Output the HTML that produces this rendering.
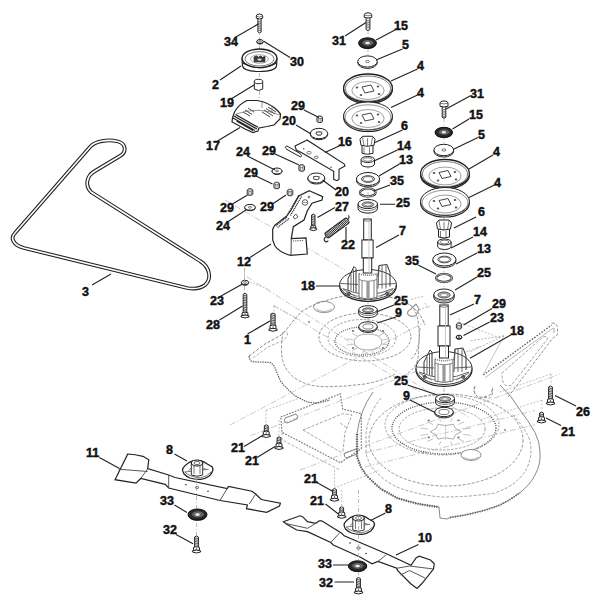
<!DOCTYPE html>
<html><head><meta charset="utf-8">
<style>
html,body{margin:0;padding:0;background:#fff;width:600px;height:600px;overflow:hidden}
svg{display:block}
.t{font-family:"Liberation Sans",sans-serif;font-weight:bold;font-size:12.5px;fill:#111;stroke:#111;stroke-width:0.45}
.ld{stroke:#222;stroke-width:1.1;fill:none}
.dk{stroke:#333;stroke-width:1;fill:#fff}
.pl{stroke:#222;stroke-width:1;fill:#fff}
.th{stroke:#444;stroke-width:0.7;fill:none}
.th2{stroke:#333;stroke-width:0.9;fill:none}
.dg{stroke:#999;stroke-width:0.9;fill:none;stroke-dasharray:3 2}
.ax{stroke:#aaa;stroke-width:0.8;fill:none;stroke-dasharray:4 2 1 2}
</style></head><body>
<svg width="600" height="600" viewBox="0 0 600 600">
<!-- DECK -->
<g id="deck"><path d="M246.7,276.7 L470,418" fill="none" stroke="#bbb" stroke-width="0.8" stroke-dasharray="6 2 1.5 2"/>
<path d="M273,305 L420,392" fill="none" stroke="#bbb" stroke-width="0.8" stroke-dasharray="6 2 1.5 2"/>
<path d="M225,200 L345,270" fill="none" stroke="#bbb" stroke-width="0.8" stroke-dasharray="6 2 1.5 2"/>
<path d="M230,425 L425,322" fill="none" stroke="#bbb" stroke-width="0.8" stroke-dasharray="6 2 1.5 2"/>
<path d="M250,436 L480,346.6" fill="none" stroke="#bbb" stroke-width="0.8" stroke-dasharray="6 2 1.5 2"/>
<path d="M300,470 L560,374" fill="none" stroke="#bbb" stroke-width="0.8" stroke-dasharray="6 2 1.5 2"/>
<path d="M365,453 L535,410.5" fill="none" stroke="#bbb" stroke-width="0.8" stroke-dasharray="6 2 1.5 2"/>
<path d="M365,467 L535,424.7" fill="none" stroke="#bbb" stroke-width="0.8" stroke-dasharray="6 2 1.5 2"/>
<path d="M249,356 L265,344 L283,334 Q292,322 301,312 Q311,305 325,301 Q345,294 370,294 Q395,296 410,305 Q420,312 425,325" fill="none" stroke="#777" stroke-width="0.9" stroke-dasharray="3 1.6"/>
<path d="M253,358 L268,347 L284,340 Q290,333 286,331" fill="none" stroke="#999" stroke-width="0.8" stroke-dasharray="3 1.6"/>
<path d="M249,356 Q249.5,361 253,361.7 L270,362.5 Q273.5,364 275,368 L280,380 Q283,385 286.7,388 Q291,393 296.7,396.7 L306.7,401.7 Q312,403 318,403 L330,400" fill="none" stroke="#666" stroke-width="1.3" stroke-dasharray="1.4 1"/>
<path d="M283,331.7 Q281,345 281.7,355 Q282.5,362 285,366.7 Q288,372 293,376.7 Q300,382 310,385 Q320,387 330,386.7 L345,386 L365,384 Q385,380 395,374" fill="none" stroke="#888" stroke-width="0.9" stroke-dasharray="3 1.6"/>
<path d="M410,305 Q420,312 419,340 Q418,354 410,360" fill="none" stroke="#888" stroke-width="0.9" stroke-dasharray="3 1.6"/>
<path d="M420,328 L418,358 Q416,370 400,378" fill="none" stroke="#888" stroke-width="0.9" stroke-dasharray="3 1.6"/>
<ellipse cx="365" cy="337" rx="46" ry="24" fill="none" stroke="#8a8a8a" stroke-width="0.9" stroke-dasharray="3 1.6"/>
<ellipse cx="362" cy="338" rx="34" ry="18.5" fill="none" stroke="#999" stroke-width="0.9" stroke-dasharray="2.5 1.5"/>
<ellipse cx="362" cy="341" rx="27" ry="14" fill="none" stroke="#666" stroke-width="1.3" stroke-dasharray="1 1.2"/>
<path d="M354,342 Q355,334 368,334 Q381,334 382,342 Q381,350 368,350 Q355,350 354,342 Z" fill="none" stroke="#999" stroke-width="0.8"/>
<ellipse cx="353" cy="331" rx="1.2" ry="0.9" fill="#777"/>
<ellipse cx="383" cy="331" rx="1.2" ry="0.9" fill="#777"/>
<ellipse cx="353" cy="348" rx="1.2" ry="0.9" fill="#777"/>
<ellipse cx="383" cy="348" rx="1.2" ry="0.9" fill="#777"/>
<line x1="382.5" y1="344.2" x2="389.3" y2="345.1" stroke="#aaa" stroke-width="0.7"/>
<line x1="378.6" y1="348.0" x2="383.6" y2="350.5" stroke="#aaa" stroke-width="0.7"/>
<line x1="371.9" y1="350.2" x2="373.7" y2="353.6" stroke="#aaa" stroke-width="0.7"/>
<line x1="364.1" y1="350.2" x2="362.3" y2="353.6" stroke="#aaa" stroke-width="0.7"/>
<line x1="357.4" y1="348.0" x2="352.4" y2="350.5" stroke="#aaa" stroke-width="0.7"/>
<line x1="353.5" y1="344.2" x2="346.7" y2="345.1" stroke="#aaa" stroke-width="0.7"/>
<line x1="353.5" y1="339.8" x2="346.7" y2="338.9" stroke="#aaa" stroke-width="0.7"/>
<line x1="357.4" y1="336.0" x2="352.4" y2="333.5" stroke="#aaa" stroke-width="0.7"/>
<line x1="364.1" y1="333.8" x2="362.3" y2="330.4" stroke="#aaa" stroke-width="0.7"/>
<line x1="371.9" y1="333.8" x2="373.7" y2="330.4" stroke="#aaa" stroke-width="0.7"/>
<line x1="378.6" y1="336.0" x2="383.6" y2="333.5" stroke="#aaa" stroke-width="0.7"/>
<line x1="382.5" y1="339.8" x2="389.3" y2="338.9" stroke="#aaa" stroke-width="0.7"/>
<ellipse cx="324" cy="307" rx="10.5" ry="5.6" fill="none" stroke="#8a8a8a" stroke-width="0.9"/><path d="M316,309 Q324,314 332,309" fill="none" stroke="#999" stroke-width="0.8"/>
<ellipse cx="309" cy="322" rx="1" ry="0.7" fill="#555"/>
<path d="M416,304 L411,309 Q406,312 408,314.5 Q411,317.5 416,315.5 L419,309 L416,304" fill="none" stroke="#999" stroke-width="1.2"/>
<path d="M411,299.5 L424,296 M419,310 L430,306 M425,303 L429,309" fill="none" stroke="#aaa" stroke-width="0.8" stroke-dasharray="2 1.5"/>
<path d="M280.8,417 L340.3,393.8 L342.7,409 L361.3,413.7 L361.3,448.7 L340.3,462.7 L282,432.3 Z" fill="none" stroke="#777" stroke-width="1.1" stroke-dasharray="1.8 1.2"/>
<path d="M303,430 L342.7,413.7 L352,414.8 L345,432.3 L342.7,453.3 M303,430 L342.7,453.3 M340.3,423 L347,428" fill="none" stroke="#9a9a9a" stroke-width="0.9" stroke-dasharray="3 1.6"/>
<path d="M282,432.3 L282,440 L340,470" fill="none" stroke="#aaa" stroke-width="0.9" stroke-dasharray="3 1.6"/>
<path d="M285,418 L296,414 Q299,416 297,419 L287,423 Q283,422 285,418 Z" fill="none" stroke="#777" stroke-width="0.9"/>
<path d="M345,453 L356,449 Q359,451 357,454 L347,458 Q343,457 345,453 Z" fill="none" stroke="#777" stroke-width="0.9"/>
<path d="M373,392 Q360,410 357,434 L357,456 Q360,468 367,476 Q375,484 381,489 Q390,494 397,498 Q418,505 439,507 L440,518 L447,519 L450,517.5 L465,515 Q485,511 500,505 Q512,499 520,492.5 Q530,485 535,475 Q541,464 540,452.5 Q540,442 535,432.5 Q528,420 520,410 Q512,396 500,385" fill="none" stroke="#7a7a7a" stroke-width="0.9"/>
<path d="M357,434 L357,456 Q360,468 367,476 Q375,484 381,489 Q390,494 397,498 Q418,505 439,507" fill="none" stroke="#555" stroke-width="2.4" stroke-dasharray="0.9 1.5"/>
<path d="M450,517.5 L465,515 Q485,511 500,505 Q512,499 520,492.5" fill="none" stroke="#666" stroke-width="2.0" stroke-dasharray="0.9 1.6"/>
<path d="M381,398 Q368,414 366,434 L366,454 Q369,464 374,470 Q382,478 388,482 Q398,488 405,490 Q425,496 442,497 Q470,497 495,493 Q508,488 513,484 Q522,477 526,470 Q531,460 531,451 Q531,440 527,434 Q520,422 512,414" fill="none" stroke="#999" stroke-width="0.9" stroke-dasharray="3 1.6"/>
<ellipse cx="446" cy="440" rx="77" ry="46" fill="none" stroke="#8a8a8a" stroke-width="0.9" stroke-dasharray="3 1.6"/>
<ellipse cx="442" cy="425" rx="57" ry="30" fill="none" stroke="#999" stroke-width="0.9" stroke-dasharray="2.5 1.5"/>
<ellipse cx="444" cy="428" rx="52" ry="26" fill="none" stroke="#555" stroke-width="1.4" stroke-dasharray="1 1.3"/>
<ellipse cx="442" cy="429" rx="43" ry="21" fill="none" stroke="#999" stroke-width="0.9" stroke-dasharray="2.5 1.5"/>
<path d="M461.3,431.7 L455.4,434.8 L453.5,439.1 L445.7,437.8 L437.9,439.1 L436.0,434.8 L430.1,431.7 L436.0,428.6 L437.9,424.3 L445.7,425.6 L453.5,424.3 L455.4,428.6 Z" fill="none" stroke="#999" stroke-width="0.8"/>
<line x1="445.7" y1="424" x2="445.7" y2="440" stroke="#bbb" stroke-width="0.7"/>
<ellipse cx="428.7" cy="420.4" rx="1.2" ry="0.9" fill="#777"/>
<ellipse cx="458.5" cy="420.4" rx="1.2" ry="0.9" fill="#777"/>
<ellipse cx="428.7" cy="437.4" rx="1.2" ry="0.9" fill="#777"/>
<ellipse cx="458.5" cy="437.4" rx="1.2" ry="0.9" fill="#777"/>
<line x1="463.1" y1="434.3" x2="470.8" y2="435.3" stroke="#aaa" stroke-width="0.7"/>
<line x1="458.4" y1="438.8" x2="464.1" y2="441.6" stroke="#aaa" stroke-width="0.7"/>
<line x1="450.4" y1="441.4" x2="452.4" y2="445.2" stroke="#aaa" stroke-width="0.7"/>
<line x1="441.0" y1="441.4" x2="439.0" y2="445.2" stroke="#aaa" stroke-width="0.7"/>
<line x1="433.0" y1="438.8" x2="427.3" y2="441.6" stroke="#aaa" stroke-width="0.7"/>
<line x1="428.3" y1="434.3" x2="420.6" y2="435.3" stroke="#aaa" stroke-width="0.7"/>
<line x1="428.3" y1="429.1" x2="420.6" y2="428.1" stroke="#aaa" stroke-width="0.7"/>
<line x1="433.0" y1="424.6" x2="427.3" y2="421.8" stroke="#aaa" stroke-width="0.7"/>
<line x1="441.0" y1="422.0" x2="439.0" y2="418.2" stroke="#aaa" stroke-width="0.7"/>
<line x1="450.4" y1="422.0" x2="452.4" y2="418.2" stroke="#aaa" stroke-width="0.7"/>
<line x1="458.4" y1="424.6" x2="464.1" y2="421.8" stroke="#aaa" stroke-width="0.7"/>
<line x1="463.1" y1="429.1" x2="470.8" y2="428.1" stroke="#aaa" stroke-width="0.7"/>
<ellipse cx="471" cy="455" rx="10" ry="5.5" fill="#fff" stroke="#888" stroke-width="0.9"/><path d="M463,457 Q471,462 479,457" fill="none" stroke="#999" stroke-width="0.8"/>
<ellipse cx="505" cy="430" rx="1" ry="0.7" fill="#555"/>
<path d="M475,386 Q472,392 478,397 L490,398 Q494,394 492,386" fill="none" stroke="#888" stroke-width="0.9" stroke-dasharray="3 1.6"/>
<path d="M485.3,377.5 L553.5,327.8" fill="none" stroke="#999" stroke-width="0.7"/>
<path d="M483.3,375 L551.7,325" fill="none" stroke="#666" stroke-width="1.4" stroke-dasharray="1.6 1.4"/>
<path d="M551.7,323.3 Q556.7,322 557.5,328 L557.5,333.3 Q557,337 553.3,337.5 L508.3,396.7" fill="none" stroke="#888" stroke-width="0.9" stroke-dasharray="3 1.6"/>
<path d="M501.7,373.3 L543.3,336.7 Q548,336 547.5,339 L511.7,385 Q504,388 502.5,380 Z" fill="none" stroke="#999" stroke-width="0.9" stroke-dasharray="3 1.6"/>
<path d="M554,328 L554,333" fill="none" stroke="#888" stroke-width="0.8"/>
<path d="M475,386.7 Q472,394 480,398.3 L490,395 Q493,391 491.7,388.3" fill="none" stroke="#888" stroke-width="0.9" stroke-dasharray="3 1.6"/>
<path d="M504,335.8 L470,340.8 M504,335.8 L470,351.7" stroke="#999" stroke-width="0.7" fill="none" stroke-dasharray="2 1.5"/><path d="M504,335.8 L483,375" stroke="#aaa" stroke-width="0.7" fill="none"/>
<path d="M551,374 L551,385 M551,374 L500,392" fill="none" stroke="#aaa" stroke-width="0.7" stroke-dasharray="2 1.5"/>
<path d="M542,400 L542,409 M542,400 L480,420" fill="none" stroke="#aaa" stroke-width="0.7" stroke-dasharray="2 1.5"/>
<path d="M266,410 L266,424 M266,410 L300,398" fill="none" stroke="#aaa" stroke-width="0.7" stroke-dasharray="2 1.5"/>
<path d="M279,420 L279,436" fill="none" stroke="#aaa" stroke-width="0.7" stroke-dasharray="2 1.5"/>
<path d="M334.5,470 L334.5,488 L380,470" fill="none" stroke="#aaa" stroke-width="0.7" stroke-dasharray="2 1.5"/>
<path d="M341.7,490 L341.7,506" fill="none" stroke="#aaa" stroke-width="0.7" stroke-dasharray="2 1.5"/>
<path d="M274,306 L274,314 M274,306 L300,320" fill="none" stroke="#aaa" stroke-width="0.7" stroke-dasharray="2 1.5"/>
<path d="M244.5,268 L244.5,280 L270,290" fill="none" stroke="#aaa" stroke-width="0.7" stroke-dasharray="2 1.5"/>
<path d="M459,318 L459,322 L500,338" fill="none" stroke="#aaa" stroke-width="0.7" stroke-dasharray="2 1.5"/></g>
<!-- BELT -->
<path d="M15,233 L90,147 C95,141 108,139 118,141.5 C126,143.5 127,152 120,156 L95,171 C86,176 85,186 91,192 L200,261 C210,267 212,279 205,285 C200,289 193,289 187,288 L24,248 C13,245 10,238 15,233 Z" fill="none" stroke="#222" stroke-width="3.8"/>
<path d="M15,233 L90,147 C95,141 108,139 118,141.5 C126,143.5 127,152 120,156 L95,171 C86,176 85,186 91,192 L200,261 C210,267 212,279 205,285 C200,289 193,289 187,288 L24,248 C13,245 10,238 15,233 Z" fill="none" stroke="#fff" stroke-width="1.6"/>
<!-- PARTS -->
<g id="parts"><line x1="368" y1="30" x2="368" y2="330" class="ax"/>
<path d="M366.1,18.1 L366.1,29.6 Q368,31.400000000000002 369.9,29.6 L369.9,18.1" class="pl"/><line x1="366.1" y1="20.1" x2="369.9" y2="20.900000000000002" class="th"/><line x1="366.1" y1="21.900000000000002" x2="369.9" y2="22.700000000000003" class="th"/><line x1="366.1" y1="23.700000000000003" x2="369.9" y2="24.500000000000004" class="th"/><line x1="366.1" y1="25.500000000000004" x2="369.9" y2="26.300000000000004" class="th"/><line x1="366.1" y1="27.300000000000004" x2="369.9" y2="28.100000000000005" class="th"/><path d="M364.2,14.8 Q364.2,13.0 368,12.8 Q371.8,13.0 371.8,14.8 L371.8,17.3 Q368,18.900000000000002 364.2,17.3 Z" class="pl"/><path d="M364.2,15.100000000000001 Q368,16.5 371.8,15.100000000000001" class="th"/>
<ellipse cx="367.5" cy="43.8" rx="8.9" ry="5.2" fill="#222"/><ellipse cx="367.5" cy="43" rx="8.9" ry="5.2" fill="#2a2a2a" stroke="#111" stroke-width="1"/><ellipse cx="367.8" cy="42.8" rx="5.518" ry="2.8600000000000003" fill="#666"/><ellipse cx="367.5" cy="43" rx="2.225" ry="1.3" fill="#eee"/>
<ellipse cx="367.5" cy="62.8" rx="9.75" ry="5.6" class="pl" fill="#fff"/><ellipse cx="367.5" cy="61.5" rx="9.75" ry="5.6" class="pl" fill="#fff"/><ellipse cx="367.5" cy="61.5" rx="1.9500000000000002" ry="1.1199999999999999" class="th"/>
<ellipse cx="368" cy="89.5" rx="24.4" ry="14" fill="#fff" stroke="#222" stroke-width="1.3"/><ellipse cx="368" cy="88" rx="24.4" ry="14" fill="#fff" stroke="#222" stroke-width="1.3"/><ellipse cx="368" cy="88.6" rx="22.599999999999998" ry="12.6" fill="none" stroke="#555" stroke-width="0.8"/><ellipse cx="368" cy="90.5" rx="16.104" ry="8.96" fill="none" stroke="#777" stroke-width="0.7"/><path d="M362,87 L371,85 L374,91 L365,93 Z" fill="none" stroke="#333" stroke-width="0.9"/><ellipse cx="357" cy="87.5" rx="1.3" ry="0.9" fill="#555"/><ellipse cx="378" cy="86.5" rx="1.3" ry="0.9" fill="#555"/><ellipse cx="379" cy="94" rx="1.3" ry="0.9" fill="#555"/><ellipse cx="361" cy="95" rx="1.3" ry="0.9" fill="#555"/>
<ellipse cx="368" cy="117.5" rx="24.4" ry="14" fill="#fff" stroke="#222" stroke-width="1.1"/><ellipse cx="368" cy="116" rx="24.4" ry="14" fill="#fff" stroke="#222" stroke-width="1.0"/><ellipse cx="368" cy="117.2" rx="22.9" ry="12.4" fill="none" stroke="#666" stroke-width="0.7"/><ellipse cx="368" cy="118.5" rx="16.104" ry="8.96" fill="none" stroke="#777" stroke-width="0.7"/><path d="M362,115 L371,113 L374,119 L365,121 Z" fill="none" stroke="#333" stroke-width="0.9"/><ellipse cx="357" cy="115.5" rx="1.3" ry="0.9" fill="#555"/><ellipse cx="378" cy="114.5" rx="1.3" ry="0.9" fill="#555"/><ellipse cx="379" cy="122" rx="1.3" ry="0.9" fill="#555"/><ellipse cx="361" cy="123" rx="1.3" ry="0.9" fill="#555"/>
<path d="M362.0,145.3 L362.0,153.3 Q367.5,155.3 373.0,153.3 L373.0,145.3" class="pl"/><path d="M360.0,139.3 L362.5,136.3 L372.5,136.3 L375.0,139.3 L374.0,145.3 Q367.5,147.3 361.0,145.3 Z" class="pl"/><path d="M362.5,137.3 L364.0,145.8 M372.5,137.3 L371.0,145.8 M367.5,138.3 L367.5,146.3" class="th"/><path d="M364.0,147.3 L364.0,153.8 M369.5,147.3 L369.5,154.3" class="th"/>
<path d="M361.1,159.5 L361.1,164.0 A6.7,3 0 0 0 374.5,164.0 L374.5,159.5" class="pl"/><ellipse cx="367.8" cy="159.5" rx="6.7" ry="3" class="pl"/><ellipse cx="367.8" cy="159.5" rx="4.5" ry="1.8" class="th"/>
<ellipse cx="368" cy="180.5" rx="11.6" ry="6.5" class="pl"/><ellipse cx="368" cy="179" rx="11.6" ry="6.5" class="pl"/><ellipse cx="368" cy="179" rx="6.5" ry="3.3" class="th2"/><ellipse cx="368" cy="179" rx="5" ry="2.4" class="th"/>
<ellipse cx="367.8" cy="192.5" rx="7.9" ry="4" fill="none" stroke="#222" stroke-width="2.2"/><ellipse cx="367.8" cy="192.5" rx="7.9" ry="4" fill="none" stroke="#fff" stroke-width="0.7"/>
<path d="M358.05,204 L358.05,208.5 A9.75,4.6 0 0 0 377.55,208.5 L377.55,204" class="pl"/><ellipse cx="367.8" cy="204" rx="9.75" ry="4.6" class="pl"/><ellipse cx="367.8" cy="204.5" rx="5.85" ry="2.53" fill="#bbb" stroke="#333" stroke-width="0.8"/><ellipse cx="367.8" cy="204.6" rx="3.4124999999999996" ry="1.38" fill="#fff" stroke="#555" stroke-width="0.6"/><path d="M358.05,206.025 A9.75,4.6 0 0 0 377.55,206.025" class="th"/>
<ellipse cx="368" cy="286.3" rx="28.3" ry="15" fill="#fff" stroke="#222" stroke-width="1.3"/><ellipse cx="368" cy="284.5" rx="28.3" ry="15" fill="#fff" stroke="#333" stroke-width="1"/><path d="M342.7,288.5 Q368,300.0 393.3,288.5" fill="none" stroke="#555" stroke-width="0.9"/><path d="M345.7,292.5 Q368,302.0 390.3,292.5" fill="none" stroke="#777" stroke-width="0.8"/><path d="M340.7,283.5 L358,284.5 M378,284.5 L395.3,283.5" fill="none" stroke="#555" stroke-width="0.9"/><path d="M359,273.5 L359,297.5 Q368,300.5 377,297.5 L377,273.5" fill="#fff" stroke="#555" stroke-width="0.9"/><path d="M359,273.5 Q368,277.0 377,273.5" fill="none" stroke="#777" stroke-width="1.6" stroke-dasharray="1 1"/><path d="M359,279.5 Q368,283.0 377,279.5" fill="none" stroke="#666" stroke-width="0.8"/><rect x="366.4" y="281.5" width="3.2" height="18" fill="#999"/><path d="M362,280.5 L362,297.5 M374,280.5 L374,297.5" stroke="#666" stroke-width="0.8"/><path d="M348,290.5 L348,278.5 L354,266.5 L356,268.5 L356,292.5" fill="none" stroke="#333" stroke-width="1"/><path d="M351,273.5 L351,290.5 M353.5,269.5 L353.5,291.5" stroke="#555" stroke-width="0.9"/><path d="M378,276.5 L379,265.5 L387,264.5 L390,272.5 L390,286.5" fill="none" stroke="#333" stroke-width="1"/><path d="M382,265.5 L382,288.5 M386,265.5 L386,288.5 M379,265.5 L378,288.5" stroke="#555" stroke-width="0.9"/><path d="M343,289.5 L356,296.5 M393,289.5 L380,296.5 M349,291.5 L347,297.5 M387,291.5 L389,297.5" stroke="#555" stroke-width="0.8"/><circle cx="349" cy="293.5" r="1.4" fill="none" stroke="#333" stroke-width="0.9"/><circle cx="387" cy="293.5" r="1.4" fill="none" stroke="#333" stroke-width="0.9"/>
<rect x="363.7" y="219" width="7.6" height="21" class="pl"/><rect x="361.9" y="240" width="11.2" height="18" class="pl"/><rect x="363.3" y="258" width="8.4" height="15" class="pl"/><path d="M363.7,220.5 Q367.5,222 371.3,220.5" class="th"/><line x1="369.0" y1="222" x2="369.0" y2="273" stroke="#bbb" stroke-width="0.8"/>
<path d="M358.7,309.7 L358.7,313.7 A9.3,4 0 0 0 377.3,313.7 L377.3,309.7" class="pl"/><ellipse cx="368" cy="309.7" rx="9.3" ry="4" class="pl"/><ellipse cx="368" cy="310.2" rx="5.58" ry="2.2" fill="#bbb" stroke="#333" stroke-width="0.8"/><ellipse cx="368" cy="310.3" rx="3.255" ry="1.2" fill="#fff" stroke="#555" stroke-width="0.6"/><path d="M358.7,311.5 A9.3,4 0 0 0 377.3,311.5" class="th"/>
<ellipse cx="368" cy="327.7" rx="9.3" ry="4.7" class="pl" fill="#fff"/><ellipse cx="368" cy="326.5" rx="9.3" ry="4.7" class="pl" fill="#fff"/><ellipse cx="368" cy="326.5" rx="5.115000000000001" ry="2.5850000000000004" class="th"/>
<line x1="444" y1="118" x2="444" y2="415" class="ax"/>
<path d="M442.2,107.0 L442.2,117.3 Q444,119.1 445.8,117.3 L445.8,107.0" class="pl"/><line x1="442.2" y1="109.0" x2="445.8" y2="109.8" class="th"/><line x1="442.2" y1="110.8" x2="445.8" y2="111.6" class="th"/><line x1="442.2" y1="112.6" x2="445.8" y2="113.39999999999999" class="th"/><line x1="442.2" y1="114.39999999999999" x2="445.8" y2="115.19999999999999" class="th"/><line x1="442.2" y1="116.19999999999999" x2="445.8" y2="116.99999999999999" class="th"/><path d="M440.0,102.9 Q440.0,101.10000000000001 444,100.9 Q448.0,101.10000000000001 448.0,102.9 L448.0,106.2 Q444,107.8 440.0,106.2 Z" class="pl"/><path d="M440.0,103.2 Q444,104.60000000000001 448.0,103.2" class="th"/>
<ellipse cx="443.8" cy="133.10000000000002" rx="8.75" ry="5" fill="#222"/><ellipse cx="443.8" cy="132.3" rx="8.75" ry="5" fill="#2a2a2a" stroke="#111" stroke-width="1"/><ellipse cx="444.1" cy="132.10000000000002" rx="5.425" ry="2.75" fill="#666"/><ellipse cx="443.8" cy="132.3" rx="2.1875" ry="1.25" fill="#eee"/>
<ellipse cx="443.8" cy="151.3" rx="9.9" ry="5.7" class="pl" fill="#fff"/><ellipse cx="443.8" cy="150" rx="9.9" ry="5.7" class="pl" fill="#fff"/><ellipse cx="443.8" cy="150" rx="1.9800000000000002" ry="1.1400000000000001" class="th"/>
<ellipse cx="445" cy="175.0" rx="24.4" ry="14" fill="#fff" stroke="#222" stroke-width="1.3"/><ellipse cx="445" cy="173.5" rx="24.4" ry="14" fill="#fff" stroke="#222" stroke-width="1.3"/><ellipse cx="445" cy="174.1" rx="22.599999999999998" ry="12.6" fill="none" stroke="#555" stroke-width="0.8"/><ellipse cx="445" cy="176.0" rx="16.104" ry="8.96" fill="none" stroke="#777" stroke-width="0.7"/><path d="M439,172.5 L448,170.5 L451,176.5 L442,178.5 Z" fill="none" stroke="#333" stroke-width="0.9"/><ellipse cx="434" cy="173.0" rx="1.3" ry="0.9" fill="#555"/><ellipse cx="455" cy="172.0" rx="1.3" ry="0.9" fill="#555"/><ellipse cx="456" cy="179.5" rx="1.3" ry="0.9" fill="#555"/><ellipse cx="438" cy="180.5" rx="1.3" ry="0.9" fill="#555"/>
<ellipse cx="445" cy="203.0" rx="24.4" ry="14" fill="#fff" stroke="#222" stroke-width="1.1"/><ellipse cx="445" cy="201.5" rx="24.4" ry="14" fill="#fff" stroke="#222" stroke-width="1.0"/><ellipse cx="445" cy="202.7" rx="22.9" ry="12.4" fill="none" stroke="#666" stroke-width="0.7"/><ellipse cx="445" cy="204.0" rx="16.104" ry="8.96" fill="none" stroke="#777" stroke-width="0.7"/><path d="M439,200.5 L448,198.5 L451,204.5 L442,206.5 Z" fill="none" stroke="#333" stroke-width="0.9"/><ellipse cx="434" cy="201.0" rx="1.3" ry="0.9" fill="#555"/><ellipse cx="455" cy="200.0" rx="1.3" ry="0.9" fill="#555"/><ellipse cx="456" cy="207.5" rx="1.3" ry="0.9" fill="#555"/><ellipse cx="438" cy="208.5" rx="1.3" ry="0.9" fill="#555"/>
<path d="M438.5,229 L438.5,237 Q444,239 449.5,237 L449.5,229" class="pl"/><path d="M436.5,223 L439,220 L449,220 L451.5,223 L450.5,229 Q444,231 437.5,229 Z" class="pl"/><path d="M439,221 L440.5,229.5 M449,221 L447.5,229.5 M444,222 L444,230" class="th"/><path d="M440.5,231 L440.5,237.5 M446,231 L446,238" class="th"/>
<path d="M437.7,242 L437.7,246.5 A6.7,3 0 0 0 451.09999999999997,246.5 L451.09999999999997,242" class="pl"/><ellipse cx="444.4" cy="242" rx="6.7" ry="3" class="pl"/><ellipse cx="444.4" cy="242" rx="4.5" ry="1.8" class="th"/>
<ellipse cx="444.4" cy="261.0" rx="11.6" ry="6.5" class="pl"/><ellipse cx="444.4" cy="259.5" rx="11.6" ry="6.5" class="pl"/><ellipse cx="444.4" cy="259.5" rx="6.5" ry="3.3" class="th2"/><ellipse cx="444.4" cy="259.5" rx="5" ry="2.4" class="th"/>
<ellipse cx="444" cy="278" rx="7.9" ry="4" fill="none" stroke="#222" stroke-width="2.2"/><ellipse cx="444" cy="278" rx="7.9" ry="4" fill="none" stroke="#fff" stroke-width="0.7"/>
<path d="M433.8,294.5 L433.8,297.5 A10.2,5.5 0 0 0 454.2,297.5 L454.2,294.5" class="pl"/><ellipse cx="444" cy="294.5" rx="10.2" ry="5.5" class="pl"/><ellipse cx="444" cy="295.0" rx="6.119999999999999" ry="3.0250000000000004" fill="#bbb" stroke="#333" stroke-width="0.8"/><ellipse cx="444" cy="295.1" rx="3.5699999999999994" ry="1.65" fill="#fff" stroke="#555" stroke-width="0.6"/><path d="M433.8,295.85 A10.2,5.5 0 0 0 454.2,295.85" class="th"/>
<ellipse cx="444" cy="369.8" rx="28" ry="16.5" fill="#fff" stroke="#222" stroke-width="1.3"/><ellipse cx="444" cy="368" rx="28" ry="16.5" fill="#fff" stroke="#333" stroke-width="1"/><path d="M419,372 Q444,383.5 469,372" fill="none" stroke="#555" stroke-width="0.9"/><path d="M422,376 Q444,385.5 466,376" fill="none" stroke="#777" stroke-width="0.8"/><path d="M417,367 L434,368 M454,368 L471,367" fill="none" stroke="#555" stroke-width="0.9"/><path d="M435,359 L435,381 Q444,384 453,381 L453,359" fill="#fff" stroke="#555" stroke-width="0.9"/><path d="M435,359 Q444,362.5 453,359" fill="none" stroke="#777" stroke-width="1.6" stroke-dasharray="1 1"/><path d="M435,363 Q444,366.5 453,363" fill="none" stroke="#666" stroke-width="0.8"/><rect x="442.4" y="365" width="3.2" height="18" fill="#999"/><path d="M438,364 L438,381 M450,364 L450,381" stroke="#666" stroke-width="0.8"/><path d="M424,374 L424,362 L430,350 L432,352 L432,376" fill="none" stroke="#333" stroke-width="1"/><path d="M427,357 L427,374 M429.5,353 L429.5,375" stroke="#555" stroke-width="0.9"/><path d="M454,360 L455,349 L463,348 L466,356 L466,370" fill="none" stroke="#333" stroke-width="1"/><path d="M458,349 L458,372 M462,349 L462,372 M455,349 L454,372" stroke="#555" stroke-width="0.9"/><path d="M419,373 L432,380 M469,373 L456,380 M425,375 L423,381 M463,375 L465,381" stroke="#555" stroke-width="0.8"/><circle cx="425" cy="377" r="1.4" fill="none" stroke="#333" stroke-width="0.9"/><circle cx="463" cy="377" r="1.4" fill="none" stroke="#333" stroke-width="0.9"/>
<rect x="439.8" y="305" width="8.4" height="21" class="pl"/><rect x="438" y="326" width="12" height="20" class="pl"/><rect x="439.5" y="346" width="9.0" height="12" class="pl"/><path d="M439.8,306.5 Q444,308 448.2,306.5" class="th"/><line x1="445.5" y1="308" x2="445.5" y2="358" stroke="#bbb" stroke-width="0.8"/>
<path d="M435.5,398.5 L435.5,402.5 A9.5,4.2 0 0 0 454.5,402.5 L454.5,398.5" class="pl"/><ellipse cx="445" cy="398.5" rx="9.5" ry="4.2" class="pl"/><ellipse cx="445" cy="399.0" rx="5.7" ry="2.3100000000000005" fill="#bbb" stroke="#333" stroke-width="0.8"/><ellipse cx="445" cy="399.1" rx="3.3249999999999997" ry="1.26" fill="#fff" stroke="#555" stroke-width="0.6"/><path d="M435.5,400.3 A9.5,4.2 0 0 0 454.5,400.3" class="th"/>
<ellipse cx="444" cy="413.2" rx="9.3" ry="4.7" class="pl" fill="#fff"/><ellipse cx="444" cy="412" rx="9.3" ry="4.7" class="pl" fill="#fff"/><ellipse cx="444" cy="412" rx="5.115000000000001" ry="2.5850000000000004" class="th"/>
<line x1="259.5" y1="28" x2="259.5" y2="100" class="ax"/>
<path d="M257.9,19.0 L257.9,32 Q259.5,33.8 261.1,32 L261.1,19.0" class="pl"/><line x1="257.9" y1="21.0" x2="261.1" y2="21.8" class="th"/><line x1="257.9" y1="22.8" x2="261.1" y2="23.6" class="th"/><line x1="257.9" y1="24.6" x2="261.1" y2="25.400000000000002" class="th"/><line x1="257.9" y1="26.400000000000002" x2="261.1" y2="27.200000000000003" class="th"/><line x1="257.9" y1="28.200000000000003" x2="261.1" y2="29.000000000000004" class="th"/><line x1="257.9" y1="30.000000000000004" x2="261.1" y2="30.800000000000004" class="th"/><path d="M256.3,16.0 Q256.3,14.2 259.5,14.0 Q262.7,14.2 262.7,16.0 L262.7,18.2 Q259.5,19.8 256.3,18.2 Z" class="pl"/><path d="M256.3,16.3 Q259.5,17.7 262.7,16.3" class="th"/>
<ellipse cx="260" cy="42.1" rx="3.2" ry="2" class="pl" fill="#fff"/><ellipse cx="260" cy="41.5" rx="3.2" ry="2" class="pl" fill="#fff"/><ellipse cx="260" cy="41.5" rx="1.2800000000000002" ry="0.8" class="th"/>
<path d="M242,58.3 L242.5,66 Q244,71.5 259.5,71.5 Q275,71.5 276.5,66 L277,58.3" fill="#fff" stroke="#222" stroke-width="1.2"/><path d="M242.3,63 Q259.5,72 276.7,63" fill="none" stroke="#333" stroke-width="1.3"/><ellipse cx="259.5" cy="58.3" rx="17.4" ry="9.3" fill="#fff" stroke="#222" stroke-width="1.4"/><ellipse cx="259.5" cy="58.8" rx="14.5" ry="7.2" fill="none" stroke="#555" stroke-width="0.8"/><ellipse cx="259.5" cy="59" rx="9" ry="4.3" fill="none" stroke="#888" stroke-width="0.7"/><path d="M254,57 L256.5,56 L258.5,57.3 L260.5,56 L262.5,57.3 L265,56.5 L264.8,61.8 L254.2,61.8 Z" fill="#3a3a3a" stroke="#222" stroke-width="0.8"/><ellipse cx="259.5" cy="59.6" rx="2.2" ry="1.1" fill="#ddd"/>
<path d="M254.3,81.5 L254.3,89 Q258.5,92 262.7,89 L262.7,81.5" class="pl"/><ellipse cx="258.5" cy="81.5" rx="4.2" ry="2.2" class="pl"/>
<path d="M234.5,112 Q239,104 247,100.5 L257,100.5 Q269,102 278,111 L280.5,114 L280,119 L274,125 L267,126.5 L259,128 L258,131 L253,132.5 L245,129 L236,124 L232,122 L232.5,118 Z" fill="#fff" stroke="#222" stroke-width="1.2"/><path d="M233,118 L255,130.5 M234,116 L257,129 M235.5,114.5 L258,127.3 M236.5,121 L253,130.5" stroke="#222" stroke-width="1.3" fill="none"/><path d="M243,112 L250,116 M245,110 L252,114.5 M248,108 L254,112 M262,112 L270,117 M264,110 L273,116 M266,108.5 L275,114 M268,107 L276,112" stroke="#333" stroke-width="0.9" fill="none"/><path d="M236,114 Q258,106 280,115 M262,100.8 L262,108 M272,105 L272,113" stroke="#666" stroke-width="0.7" fill="none"/>
<path d="M316.9,117.3 L318.3,116.1 L321.09999999999997,116.1 L322.5,117.3 L322.5,121.5 L321.09999999999997,122.5 L318.3,122.5 L316.9,121.5 Z" fill="#ddd" stroke="#222" stroke-width="0.9"/><ellipse cx="319.7" cy="117.5" rx="2.0999999999999996" ry="1.1" fill="#fff" stroke="#444" stroke-width="0.7"/><path d="M318.3,118.5 L318.3,122.5 M321.09999999999997,118.5 L321.09999999999997,122.5" stroke="#555" stroke-width="0.6"/>
<path d="M298.9,166.0 L300.3,164.8 L303.09999999999997,164.8 L304.5,166.0 L304.5,170.2 L303.09999999999997,171.2 L300.3,171.2 L298.9,170.2 Z" fill="#ddd" stroke="#222" stroke-width="0.9"/><ellipse cx="301.7" cy="166.20000000000002" rx="2.0999999999999996" ry="1.1" fill="#fff" stroke="#444" stroke-width="0.7"/><path d="M300.3,167.20000000000002 L300.3,171.2 M303.09999999999997,167.20000000000002 L303.09999999999997,171.2" stroke="#555" stroke-width="0.6"/>
<path d="M273.9,183.5 L275.3,182.3 L278.09999999999997,182.3 L279.5,183.5 L279.5,187.7 L278.09999999999997,188.7 L275.3,188.7 L273.9,187.7 Z" fill="#ddd" stroke="#222" stroke-width="0.9"/><ellipse cx="276.7" cy="183.70000000000002" rx="2.0999999999999996" ry="1.1" fill="#fff" stroke="#444" stroke-width="0.7"/><path d="M275.3,184.70000000000002 L275.3,188.7 M278.09999999999997,184.70000000000002 L278.09999999999997,188.7" stroke="#555" stroke-width="0.6"/>
<path d="M247.2,190.0 L248.6,188.8 L251.4,188.8 L252.8,190.0 L252.8,194.2 L251.4,195.2 L248.6,195.2 L247.2,194.2 Z" fill="#ddd" stroke="#222" stroke-width="0.9"/><ellipse cx="250" cy="190.20000000000002" rx="2.0999999999999996" ry="1.1" fill="#fff" stroke="#444" stroke-width="0.7"/><path d="M248.6,191.20000000000002 L248.6,195.2 M251.4,191.20000000000002 L251.4,195.2" stroke="#555" stroke-width="0.6"/>
<path d="M287.2,190.5 L288.6,189.3 L291.4,189.3 L292.8,190.5 L292.8,194.7 L291.4,195.7 L288.6,195.7 L287.2,194.7 Z" fill="#ddd" stroke="#222" stroke-width="0.9"/><ellipse cx="290" cy="190.70000000000002" rx="2.0999999999999996" ry="1.1" fill="#fff" stroke="#444" stroke-width="0.7"/><path d="M288.6,191.70000000000002 L288.6,195.7 M291.4,191.70000000000002 L291.4,195.7" stroke="#555" stroke-width="0.6"/>
<ellipse cx="319" cy="134.5" rx="8.7" ry="5.2" class="pl" fill="#fff"/><ellipse cx="319" cy="133.5" rx="8.7" ry="5.2" class="pl" fill="#fff"/><ellipse cx="319" cy="133.5" rx="3.0449999999999995" ry="1.8199999999999998" class="th"/>
<path d="M316,132 L322,132 L321,135 L317,135 Z" fill="none" stroke="#555" stroke-width="0.8"/>
<ellipse cx="316.3" cy="179.0" rx="8.5" ry="5.0" class="pl" fill="#fff"/><ellipse cx="316.3" cy="178" rx="8.5" ry="5.0" class="pl" fill="#fff"/><ellipse cx="316.3" cy="178" rx="2.9749999999999996" ry="1.75" class="th"/>
<path d="M313.3,176.5 L319.3,176.5 L318.3,179.5 L314.3,179.5 Z" fill="none" stroke="#555" stroke-width="0.8"/>
<ellipse cx="277" cy="171.5" rx="5" ry="3" class="pl" fill="#fff"/><ellipse cx="277" cy="171" rx="5" ry="3" class="pl" fill="#fff"/><ellipse cx="277" cy="171" rx="1.5" ry="0.8999999999999999" class="th"/>
<ellipse cx="250" cy="207.8" rx="5.4" ry="2.9" class="pl" fill="#fff"/><ellipse cx="250" cy="207.3" rx="5.4" ry="2.9" class="pl" fill="#fff"/><ellipse cx="250" cy="207.3" rx="1.62" ry="0.87" class="th"/>
<path d="M287,146 L300,153.5 Q303,156 300.5,157 L287,149.5 Q283.5,147 287,146 Z" class="pl"/>
<path d="M295,146 L305.7,140.7 L307,140 L344.3,164 L345,166 L339,169.3 L339,179.3 L337,180.7 L333.7,179.3 L333.7,171.3 L301.7,152.7 L296.3,150 Z" fill="#fff" stroke="#222" stroke-width="1.1"/><ellipse cx="309" cy="152.7" rx="2.2" ry="1.3" class="th"/><ellipse cx="316.3" cy="157.3" rx="2" ry="1.2" class="th"/><circle cx="303.7" cy="148.7" r="0.8" fill="#555"/><circle cx="331" cy="167.3" r="0.8" fill="#555"/>
<path d="M309.3,190.7 L322.7,196.7 L322,200 L312,203.3 L307.3,210.7 L304,220 L293.3,226.7 L291.3,238.7 L306,238 L307.3,254 L290,255.3 Q279,252 275,246 L272.7,240 L272.7,229.3 L274.7,225.3 L286.7,216 L290.7,210.7 L298.7,196 Z" fill="#fff" stroke="#222" stroke-width="1.2"/><path d="M291.3,238.7 L291,255" stroke="#333" stroke-width="0.9"/><path d="M299,195 L288,214 M301.5,196.5 L290.5,215.5 M287,217 L275.5,226 M289,218.5 L277.5,227.5" stroke="#333" stroke-width="1.4" stroke-dasharray="1.1 0.8"/><circle cx="305" cy="202.5" r="2.8" fill="none" stroke="#333" stroke-width="0.8"/><path d="M303,202.5 L307,202.5" stroke="#555" stroke-width="0.6"/><circle cx="309" cy="197" r="0.9" fill="none" stroke="#333" stroke-width="0.7"/><path d="M293,217 L296,214 L298,217 L295,219 Z" fill="none" stroke="#333" stroke-width="0.8"/><path d="M293,241 L304,240.5" stroke="#555" stroke-width="1" stroke-dasharray="1.2 1"/>
<path d="M311.6,226.2 L311.6,215 Q313.3,213.2 315.0,215 L315.0,226.2" class="pl"/><line x1="311.6" y1="215.8" x2="315.0" y2="216.70000000000002" stroke="#333" stroke-width="0.8"/><line x1="311.6" y1="217.5" x2="315.0" y2="218.4" stroke="#333" stroke-width="0.8"/><line x1="311.6" y1="219.2" x2="315.0" y2="220.1" stroke="#333" stroke-width="0.8"/><line x1="311.6" y1="220.89999999999998" x2="315.0" y2="221.79999999999998" stroke="#333" stroke-width="0.8"/><line x1="311.6" y1="222.59999999999997" x2="315.0" y2="223.49999999999997" stroke="#333" stroke-width="0.8"/><line x1="311.6" y1="224.29999999999995" x2="315.0" y2="225.19999999999996" stroke="#333" stroke-width="0.8"/><path d="M310.85200000000003,226.0 Q313.3,224.6 315.748,226.0 L315.748,228.1 L310.85200000000003,228.1 Z" class="pl"/><path d="M309.90000000000003,228.5 Q313.3,226.89999999999998 316.7,228.5 L316.7,229.7 Q313.3,231.6 309.90000000000003,229.7 Z" class="pl"/><line x1="313.3" y1="226.2" x2="313.3" y2="227.89999999999998" class="th"/>
<g transform="translate(337,228) rotate(-36)"><rect x="-13.5" y="-3" width="27" height="6" rx="1.5" fill="#fff" stroke="#222" stroke-width="1"/><path d="M-13.0,-3 L-11.8,3 M-11.7,-3 L-10.5,3 M-10.3,-3 L-9.1,3 M-8.9,-3 L-7.7,3 M-7.6,-3 L-6.4,3 M-6.2,-3 L-5.0,3 M-4.9,-3 L-3.7,3 M-3.5,-3 L-2.3,3 M-2.2,-3 L-1.0,3 M-0.8,-3 L0.4,3 M0.5,-3 L1.7,3 M1.9,-3 L3.1,3 M3.2,-3 L4.4,3 M4.6,-3 L5.8,3 M5.9,-3 L7.1,3 M7.2,-3 L8.4,3 M8.6,-3 L9.8,3 M10.0,-3 L11.2,3 M11.3,-3 L12.5,3 " stroke="#222" stroke-width="0.9"/><path d="M-13.5,0.5 Q-17.5,0.5 -17.5,3.2 Q-17.5,5.8 -14.5,5.2 M13.5,-0.5 Q17,-1 16.5,-3.5" fill="none" stroke="#222" stroke-width="1.1"/></g>
<ellipse cx="245" cy="283.1" rx="3.6" ry="2.2" class="pl" fill="#fff"/><ellipse cx="245" cy="282.5" rx="3.6" ry="2.2" class="pl" fill="#fff"/><ellipse cx="245" cy="282.5" rx="1.4400000000000002" ry="0.8800000000000001" class="th"/>
<path d="M243.2,313 L243.2,294.3 Q245,292.5 246.8,294.3 L246.8,313" class="pl"/><line x1="243.2" y1="295.1" x2="246.8" y2="296.0" stroke="#333" stroke-width="0.8"/><line x1="243.2" y1="296.8" x2="246.8" y2="297.7" stroke="#333" stroke-width="0.8"/><line x1="243.2" y1="298.5" x2="246.8" y2="299.4" stroke="#333" stroke-width="0.8"/><line x1="243.2" y1="300.2" x2="246.8" y2="301.09999999999997" stroke="#333" stroke-width="0.8"/><line x1="243.2" y1="301.9" x2="246.8" y2="302.79999999999995" stroke="#333" stroke-width="0.8"/><line x1="243.2" y1="303.59999999999997" x2="246.8" y2="304.49999999999994" stroke="#333" stroke-width="0.8"/><line x1="243.2" y1="305.29999999999995" x2="246.8" y2="306.19999999999993" stroke="#333" stroke-width="0.8"/><line x1="243.2" y1="306.99999999999994" x2="246.8" y2="307.8999999999999" stroke="#333" stroke-width="0.8"/><line x1="243.2" y1="308.69999999999993" x2="246.8" y2="309.5999999999999" stroke="#333" stroke-width="0.8"/><line x1="243.2" y1="310.3999999999999" x2="246.8" y2="311.2999999999999" stroke="#333" stroke-width="0.8"/><path d="M242.12,312.8 Q245,311.4 247.88,312.8 L247.88,315.4 L242.12,315.4 Z" class="pl"/><path d="M241,315.8 Q245,314.2 249,315.8 L249,317 Q245,318.9 241,317 Z" class="pl"/><line x1="245" y1="313" x2="245" y2="315.2" class="th"/>
<path d="M270.9,325.8 L270.9,314 Q273,312.2 275.1,314 L275.1,325.8" class="pl"/><line x1="270.9" y1="314.8" x2="275.1" y2="315.7" stroke="#333" stroke-width="0.8"/><line x1="270.9" y1="316.5" x2="275.1" y2="317.4" stroke="#333" stroke-width="0.8"/><line x1="270.9" y1="318.2" x2="275.1" y2="319.09999999999997" stroke="#333" stroke-width="0.8"/><line x1="270.9" y1="319.9" x2="275.1" y2="320.79999999999995" stroke="#333" stroke-width="0.8"/><line x1="270.9" y1="321.59999999999997" x2="275.1" y2="322.49999999999994" stroke="#333" stroke-width="0.8"/><line x1="270.9" y1="323.29999999999995" x2="275.1" y2="324.19999999999993" stroke="#333" stroke-width="0.8"/><path d="M270.048,325.6 Q273,324.2 275.952,325.6 L275.952,328.7 L270.048,328.7 Z" class="pl"/><path d="M268.9,329.1 Q273,327.5 277.1,329.1 L277.1,330.3 Q273,332.2 268.9,330.3 Z" class="pl"/><line x1="273" y1="325.8" x2="273" y2="328.5" class="th"/>
<line x1="244.5" y1="268" x2="244.5" y2="294" class="ax"/>
<path d="M127.8,454 Q135,454.5 143,456.3 L148.8,459.8 L147.7,468.5 L168.7,475 L175,477.5 L227.25,488.5 L228.5,486.5 L252,491.25 L255.7,494 L261.2,499.5 L280.4,503.2 L279.5,506 L266.7,512.3 L246.5,508.7 L247.4,505 L220,500.5 L168.7,488 L165.2,484.3 L140.7,478.5 L136,483.2 L115,479.7 Z" fill="#fff" stroke="#222" stroke-width="1.2"/><path d="M118.5,469.2 L147.7,471.5 M168.7,475 L168.7,488 M227.25,488.5 L220,500.5 M255.7,494 L249.25,504 M148,468.5 L140.7,478.5" fill="none" stroke="#444" stroke-width="0.9"/><ellipse cx="186" cy="484.8" rx="1" ry="0.7" fill="#555"/><ellipse cx="197" cy="487.6" rx="1.6" ry="1.1" fill="none" stroke="#444" stroke-width="0.8"/><ellipse cx="208" cy="491.25" rx="1" ry="0.7" fill="#555"/>
<path d="M283.3,521.7 L300,515.8 L302.5,516.7 L307.5,521.7 L315.8,523.3 L319.2,520.8 L321.7,520.8 L341.7,533.3 L344.2,535.8 L387,554 L411,565.25 L416.25,557.75 L419.25,556.25 L430.5,560 L434.25,563.75 L433.5,569 L421.5,584 L417,588.5 L411,584 L397.5,570.5 L396.75,568.25 L378,561.5 L372,563.75 L360,557 L333.3,545 L330.8,542.5 L307.5,531.7 L296.7,530 L286.7,524.2 Z" fill="#fff" stroke="#222" stroke-width="1.2"/><path d="M285,523.3 L307.5,528.3 L315.8,523.3 M330.8,542.5 L339.2,533.3 M378,561.5 L386.25,554.75 M396.75,568.25 L409.5,566 L433.5,569 M400.5,575 L409.5,570.5 L425,578" fill="none" stroke="#444" stroke-width="0.9"/><ellipse cx="350" cy="543" rx="1" ry="0.7" fill="#555"/><ellipse cx="358.5" cy="548" rx="1.8" ry="1.2" fill="none" stroke="#444" stroke-width="0.8"/><ellipse cx="366" cy="553.5" rx="1" ry="0.7" fill="#555"/>
<g transform="translate(197.5,469) scale(1.0)"><path d="M-14.8,-0.3 Q-12,-4.5 -8.8,-6.3 Q-5,-8.3 -2.2,-8.3 L3.2,-8.3 Q7,-7 9.8,-5 L14.5,-2.3 Q16,0 15.2,1.7 Q14,5 11.8,7 Q8,9.8 3.2,10.3 Q-3,10.5 -7.5,9 Q-11,7.5 -13.5,5 Q-15.5,2 -14.8,-0.3 Z" fill="#fff" stroke="#222" stroke-width="1.3"/><path d="M-12.8,3 Q0,1.5 11.2,0.3 M-12.8,3 Q-8,8 3,8.8 Q10,7.5 13.5,3" fill="none" stroke="#555" stroke-width="0.8"/><path d="M-6.2,-6 L-6.2,6 Q-0.5,8.5 5.2,6 L5.2,-6" fill="#fff" stroke="#333" stroke-width="1"/><ellipse cx="-0.5" cy="-6" rx="5.7" ry="3" fill="#fff" stroke="#222" stroke-width="1.1"/><ellipse cx="-0.5" cy="-6" rx="3" ry="1.6" fill="none" stroke="#444" stroke-width="0.8"/><path d="M-3.5,-3.5 L-3.5,5 M2.5,-3.5 L2.5,5 M-6.2,-1 L-9,1.5 M5.2,-1 L9,0.5" fill="none" stroke="#555" stroke-width="0.8"/></g>
<g transform="translate(359,524) scale(1.0)"><path d="M-14.8,-0.3 Q-12,-4.5 -8.8,-6.3 Q-5,-8.3 -2.2,-8.3 L3.2,-8.3 Q7,-7 9.8,-5 L14.5,-2.3 Q16,0 15.2,1.7 Q14,5 11.8,7 Q8,9.8 3.2,10.3 Q-3,10.5 -7.5,9 Q-11,7.5 -13.5,5 Q-15.5,2 -14.8,-0.3 Z" fill="#fff" stroke="#222" stroke-width="1.3"/><path d="M-12.8,3 Q0,1.5 11.2,0.3 M-12.8,3 Q-8,8 3,8.8 Q10,7.5 13.5,3" fill="none" stroke="#555" stroke-width="0.8"/><path d="M-6.2,-6 L-6.2,6 Q-0.5,8.5 5.2,6 L5.2,-6" fill="#fff" stroke="#333" stroke-width="1"/><ellipse cx="-0.5" cy="-6" rx="5.7" ry="3" fill="#fff" stroke="#222" stroke-width="1.1"/><ellipse cx="-0.5" cy="-6" rx="3" ry="1.6" fill="none" stroke="#444" stroke-width="0.8"/><path d="M-3.5,-3.5 L-3.5,5 M2.5,-3.5 L2.5,5 M-6.2,-1 L-9,1.5 M5.2,-1 L9,0.5" fill="none" stroke="#555" stroke-width="0.8"/></g>
<line x1="196.5" y1="478" x2="196.5" y2="536" class="ax"/>
<line x1="358.5" y1="490" x2="358.5" y2="578" class="ax"/>
<ellipse cx="197.5" cy="515.3" rx="9.5" ry="5.5" fill="#222"/><ellipse cx="197.5" cy="514.5" rx="9.5" ry="5.5" fill="#2a2a2a" stroke="#111" stroke-width="1"/><ellipse cx="197.8" cy="514.3" rx="5.89" ry="3.0250000000000004" fill="#666"/><ellipse cx="197.5" cy="514.5" rx="2.375" ry="1.375" fill="#eee"/>
<ellipse cx="357.6" cy="566.8" rx="9.2" ry="5.2" fill="#222"/><ellipse cx="357.6" cy="566" rx="9.2" ry="5.2" fill="#2a2a2a" stroke="#111" stroke-width="1"/><ellipse cx="357.90000000000003" cy="565.8" rx="5.704" ry="2.8600000000000003" fill="#666"/><ellipse cx="357.6" cy="566" rx="2.3" ry="1.3" fill="#eee"/>
<path d="M194.6,547.5 L194.6,537 Q196.5,535.2 198.4,537 L198.4,547.5" class="pl"/><line x1="194.6" y1="537.8" x2="198.4" y2="538.6999999999999" stroke="#333" stroke-width="0.8"/><line x1="194.6" y1="539.5" x2="198.4" y2="540.4" stroke="#333" stroke-width="0.8"/><line x1="194.6" y1="541.2" x2="198.4" y2="542.1" stroke="#333" stroke-width="0.8"/><line x1="194.6" y1="542.9000000000001" x2="198.4" y2="543.8000000000001" stroke="#333" stroke-width="0.8"/><line x1="194.6" y1="544.6000000000001" x2="198.4" y2="545.5000000000001" stroke="#333" stroke-width="0.8"/><path d="M193.548,547.3 Q196.5,545.9 199.452,547.3 L199.452,550.4 L193.548,550.4 Z" class="pl"/><path d="M192.4,550.8 Q196.5,549.2 200.6,550.8 L200.6,552 Q196.5,553.9 192.4,552 Z" class="pl"/><line x1="196.5" y1="547.5" x2="196.5" y2="550.2" class="th"/>
<path d="M356.6,588.5 L356.6,578.5 Q358.5,576.7 360.4,578.5 L360.4,588.5" class="pl"/><line x1="356.6" y1="579.3" x2="360.4" y2="580.1999999999999" stroke="#333" stroke-width="0.8"/><line x1="356.6" y1="581.0" x2="360.4" y2="581.9" stroke="#333" stroke-width="0.8"/><line x1="356.6" y1="582.7" x2="360.4" y2="583.6" stroke="#333" stroke-width="0.8"/><line x1="356.6" y1="584.4000000000001" x2="360.4" y2="585.3000000000001" stroke="#333" stroke-width="0.8"/><line x1="356.6" y1="586.1000000000001" x2="360.4" y2="587.0000000000001" stroke="#333" stroke-width="0.8"/><path d="M355.548,588.3 Q358.5,586.9 361.452,588.3 L361.452,591.4 L355.548,591.4 Z" class="pl"/><path d="M354.4,591.8 Q358.5,590.2 362.6,591.8 L362.6,593 Q358.5,594.9 354.4,593 Z" class="pl"/><line x1="358.5" y1="588.5" x2="358.5" y2="591.2" class="th"/>
<path d="M264.35,432.0 L264.35,425.75 Q266.25,423.95 268.15,425.75 L268.15,432.0" class="pl"/><line x1="264.35" y1="426.55" x2="268.15" y2="427.45" stroke="#333" stroke-width="0.8"/><line x1="264.35" y1="428.25" x2="268.15" y2="429.15" stroke="#333" stroke-width="0.8"/><line x1="264.35" y1="429.95" x2="268.15" y2="430.84999999999997" stroke="#333" stroke-width="0.8"/><path d="M263.298,431.8 Q266.25,430.4 269.202,431.8 L269.202,434.9 L263.298,434.9 Z" class="pl"/><path d="M262.15,435.3 Q266.25,433.7 270.35,435.3 L270.35,436.5 Q266.25,438.4 262.15,436.5 Z" class="pl"/><line x1="266.25" y1="432.0" x2="266.25" y2="434.7" class="th"/>
<path d="M277.1,444.0 L277.1,437.75 Q279,435.95 280.9,437.75 L280.9,444.0" class="pl"/><line x1="277.1" y1="438.55" x2="280.9" y2="439.45" stroke="#333" stroke-width="0.8"/><line x1="277.1" y1="440.25" x2="280.9" y2="441.15" stroke="#333" stroke-width="0.8"/><line x1="277.1" y1="441.95" x2="280.9" y2="442.84999999999997" stroke="#333" stroke-width="0.8"/><path d="M276.048,443.8 Q279,442.4 281.952,443.8 L281.952,446.9 L276.048,446.9 Z" class="pl"/><path d="M274.9,447.3 Q279,445.7 283.1,447.3 L283.1,448.5 Q279,450.4 274.9,448.5 Z" class="pl"/><line x1="279" y1="444.0" x2="279" y2="446.7" class="th"/>
<path d="M332.6,495.75 L332.6,489.5 Q334.5,487.7 336.4,489.5 L336.4,495.75" class="pl"/><line x1="332.6" y1="490.3" x2="336.4" y2="491.2" stroke="#333" stroke-width="0.8"/><line x1="332.6" y1="492.0" x2="336.4" y2="492.9" stroke="#333" stroke-width="0.8"/><line x1="332.6" y1="493.7" x2="336.4" y2="494.59999999999997" stroke="#333" stroke-width="0.8"/><path d="M331.548,495.55 Q334.5,494.15 337.452,495.55 L337.452,498.65 L331.548,498.65 Z" class="pl"/><path d="M330.4,499.05 Q334.5,497.45 338.6,499.05 L338.6,500.25 Q334.5,502.15 330.4,500.25 Z" class="pl"/><line x1="334.5" y1="495.75" x2="334.5" y2="498.45" class="th"/>
<path d="M339.8,512.8 L339.8,507.7 Q341.7,505.9 343.59999999999997,507.7 L343.59999999999997,512.8" class="pl"/><line x1="339.8" y1="508.5" x2="343.59999999999997" y2="509.4" stroke="#333" stroke-width="0.8"/><line x1="339.8" y1="510.2" x2="343.59999999999997" y2="511.09999999999997" stroke="#333" stroke-width="0.8"/><path d="M338.748,512.5999999999999 Q341.7,511.19999999999993 344.652,512.5999999999999 L344.652,515.6999999999999 L338.748,515.6999999999999 Z" class="pl"/><path d="M337.59999999999997,516.0999999999999 Q341.7,514.5 345.8,516.0999999999999 L345.8,517.3 Q341.7,519.1999999999999 337.59999999999997,517.3 Z" class="pl"/><line x1="341.7" y1="512.8" x2="341.7" y2="515.5" class="th"/>
<path d="M548.6,399.5 L548.6,387 Q550.5,385.2 552.4,387 L552.4,399.5" class="pl"/><line x1="548.6" y1="387.8" x2="552.4" y2="388.7" stroke="#333" stroke-width="0.8"/><line x1="548.6" y1="389.5" x2="552.4" y2="390.4" stroke="#333" stroke-width="0.8"/><line x1="548.6" y1="391.2" x2="552.4" y2="392.09999999999997" stroke="#333" stroke-width="0.8"/><line x1="548.6" y1="392.9" x2="552.4" y2="393.79999999999995" stroke="#333" stroke-width="0.8"/><line x1="548.6" y1="394.59999999999997" x2="552.4" y2="395.49999999999994" stroke="#333" stroke-width="0.8"/><line x1="548.6" y1="396.29999999999995" x2="552.4" y2="397.19999999999993" stroke="#333" stroke-width="0.8"/><line x1="548.6" y1="397.99999999999994" x2="552.4" y2="398.8999999999999" stroke="#333" stroke-width="0.8"/><path d="M547.548,399.3 Q550.5,397.9 553.452,399.3 L553.452,402.4 L547.548,402.4 Z" class="pl"/><path d="M546.4,402.8 Q550.5,401.2 554.6,402.8 L554.6,404 Q550.5,405.9 546.4,404 Z" class="pl"/><line x1="550.5" y1="399.5" x2="550.5" y2="402.2" class="th"/>
<path d="M539.6,417.5 L539.6,413 Q541.5,411.2 543.4,413 L543.4,417.5" class="pl"/><line x1="539.6" y1="413.8" x2="543.4" y2="414.7" stroke="#333" stroke-width="0.8"/><line x1="539.6" y1="415.5" x2="543.4" y2="416.4" stroke="#333" stroke-width="0.8"/><path d="M538.548,417.3 Q541.5,415.9 544.452,417.3 L544.452,420.4 L538.548,420.4 Z" class="pl"/><path d="M537.4,420.8 Q541.5,419.2 545.6,420.8 L545.6,422 Q541.5,423.9 537.4,422 Z" class="pl"/><line x1="541.5" y1="417.5" x2="541.5" y2="420.2" class="th"/>
<path d="M456.4,324.2 L457.7,323 L460.3,323 L461.6,324.2 L461.6,328 L460.3,329 L457.7,329 L456.4,328 Z" fill="#ddd" stroke="#222" stroke-width="0.9"/><ellipse cx="459" cy="324.4" rx="1.9500000000000002" ry="1.1" fill="#fff" stroke="#444" stroke-width="0.7"/><path d="M457.7,325.4 L457.7,329 M460.3,325.4 L460.3,329" stroke="#555" stroke-width="0.6"/>
<ellipse cx="459" cy="337.5" rx="2.8" ry="1.8" class="pl" fill="#fff"/><ellipse cx="459" cy="337" rx="2.8" ry="1.8" class="pl" fill="#fff"/><ellipse cx="459" cy="337" rx="1.1199999999999999" ry="0.7200000000000001" class="th"/></g>
<!-- LEADERS -->
<g class="ld">
<path d="M235,37.5L258.75,23.75M290,57.5L263.75,41.25M220,80L241,66M231,99L254,85M217.5,141L240,127.5M304,110L319,117.5M296,125L311,134M339,146L325,152.5M247.5,156L275,170M275,154L299,165M256,176L272.5,184M336,190L322.5,180M232.5,204L247.5,195M272.5,204L286,195M229,221L246,210M335,207.5L317.5,217.5M346,227L346,240M250,257.5L271,244M221,296L242.5,284M219.5,320L242.5,306M247.5,334L270,321M316,286L339,286M92,285L111,274"/>
<path d="M345,36L366,22.5M395,30L376,40M402.5,49L376,60M417.5,69L391,81M417.5,95L391,107.5M402.5,130L375,142.5M397.5,150L374,161M399.5,164L379,176M390,185L374,191M395,204.3L380,204.3M399,235L376,247.5"/>
<path d="M470,96L446,109M469,119L452.5,129M478,137.5L454,149M493,155L469,169M494.5,185L469,197.5M476,217L454,228M473,237L451,248M477,253L456,264M418,265L436,274M477,277L455,290M474,304L450,315M492,308.5L463.5,325M489.7,322L463.5,335.5M510.8,335L470,358.3"/>
<path d="M394,305L377,311.7M396,317L377,323M407.5,385L437.5,395M410,400L435,412.5M576,406L555,395.5M561,425.5L546,418"/>
<path d="M99.3,457.5L119.5,468.5M174.5,454L187,461M174.5,505L187,512.5M176,534.5L193,543.7M244,446.5L262.5,435.5M257,457.5L275,446.5M316,482L333,491.5M325.5,504L339,514.5M385.5,513L370.5,520.5M418.5,544.5L396,555M333,565L349.5,565M334.5,582L354,582"/>
</g>
<!-- LABELS -->
<g class="t">
<text x="224" y="46">34</text><text x="290" y="66">30</text><text x="212" y="89">2</text><text x="220" y="107">19</text>
<text x="206" y="150">17</text><text x="291" y="110">29</text><text x="282" y="125">20</text><text x="338" y="146">16</text>
<text x="236" y="156">24</text><text x="262" y="155">29</text><text x="244" y="177">29</text><text x="335" y="196">20</text>
<text x="220" y="212">29</text><text x="260" y="211">29</text><text x="216" y="230">24</text><text x="335" y="211">27</text>
<text x="341" y="249">22</text><text x="237" y="266">12</text><text x="210" y="305">23</text><text x="206" y="329">28</text>
<text x="244" y="344">1</text><text x="301" y="290">18</text><text x="82" y="296">3</text>
<text x="332" y="45">31</text><text x="394" y="30">15</text><text x="402" y="49">5</text><text x="417" y="70">4</text>
<text x="417" y="97">4</text><text x="401" y="130">6</text><text x="397" y="150">14</text><text x="399" y="164">13</text>
<text x="390" y="185">35</text><text x="396" y="207">25</text><text x="399" y="235">7</text>
<text x="470" y="98">31</text><text x="469" y="119">15</text><text x="478" y="139">5</text><text x="493" y="156">4</text>
<text x="494" y="187">4</text><text x="478" y="216">6</text><text x="473" y="236">14</text><text x="477" y="253">13</text>
<text x="405" y="265">35</text><text x="477" y="277">25</text><text x="474" y="304">7</text><text x="492" y="308">29</text>
<text x="490" y="322">23</text><text x="510" y="335">18</text><text x="394" y="304.5">25</text><text x="395" y="316.5">9</text>
<text x="394" y="385">25</text><text x="403" y="400">9</text><text x="576" y="415.5">26</text><text x="561" y="436">21</text>
<text x="86" y="457">11</text><text x="166" y="454">8</text><text x="160" y="505">33</text><text x="163" y="534">32</text>
<text x="231" y="452">21</text><text x="245" y="465">21</text><text x="304" y="483">21</text><text x="310" y="505">21</text>
<text x="385" y="513">8</text><text x="418" y="542">10</text><text x="318" y="568">33</text><text x="319" y="587">32</text>
</g>
</svg>
</body></html>
